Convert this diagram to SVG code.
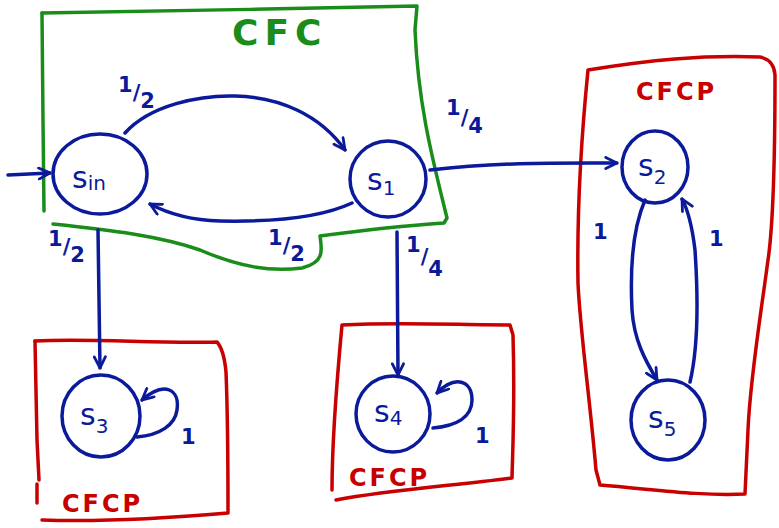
<svg xmlns="http://www.w3.org/2000/svg" width="779" height="528" viewBox="0 0 779 528">
<style>
.box-g{fill:none;stroke:#1a8c1a;stroke-width:3.5;stroke-linecap:round;stroke-linejoin:round}
.box-r{fill:none;stroke:#c80000;stroke-width:3.5;stroke-linecap:round;stroke-linejoin:round}
.node{fill:none;stroke:#0a1a9a;stroke-width:3.5}
.edge{fill:none;stroke:#0a1a9a;stroke-width:3.5;stroke-linecap:round}
.st{font-family:"DejaVu Sans",sans-serif;fill:#0a1a9a;font-size:30px}
.sub{font-size:20px}
.lbl{font-family:"DejaVu Sans",sans-serif;fill:#0a1a9a;font-size:21px;font-weight:bold}
.tg{font-family:"DejaVu Sans",sans-serif;fill:#1a8c1a;font-size:36px;font-weight:bold;letter-spacing:6px}
.tr{font-family:"DejaVu Sans",sans-serif;fill:#c80000;font-size:24px;font-weight:bold;letter-spacing:3px}
</style>
<defs>
<marker id="ah" viewBox="0 0 10 10" refX="9" refY="5" markerWidth="4" markerHeight="4" orient="auto" markerUnits="strokeWidth">
<path d="M1,1 L9,5 L1,9" fill="none" stroke="#0a1a9a" stroke-width="2" stroke-linecap="round"/>
</marker>
</defs>

<g id="cfc-box">
<path class="box-g" d="M42,13 C150,12 300,8 417,6 L415,30 C418,100 430,150 447,218 L444,223 C400,226 350,232 320,236 C322,250 325,262 302,268 C270,272 240,267 200,250 C160,236 110,230 53,224"/>
<path class="box-g" d="M42,13 L43,120 L44,211"/>
<text class="tg" x="232" y="45">CFC</text>
</g>

<g id="cfcp-right">
<path class="box-r" d="M588,70 C650,60 700,55 760,57 Q774,60 775,75 C775,150 774,220 768,260 C760,320 750,380 748,430 L745,494 C700,496 660,490 600,485 L596,470 C590,400 580,330 578,283 C577,220 580,150 588,70"/>
<text class="tr" x="636" y="100">CFCP</text>
</g>

<g id="cfcp-s3">
<path class="box-r" d="M35,341 C90,338 160,344 217,342 Q224,350 226,372 C228,420 228,470 228,513 C170,518 100,522 42,520"/>
<path class="box-r" d="M35,341 L37,440 L39,480 M37,484 L37,503"/>
<text class="tr" x="62" y="512">CFCP</text>
</g>

<g id="cfcp-s4">
<path class="box-r" d="M342,325 C400,322 460,325 510,325 L513,335 C515,400 513,440 512,478 C450,486 390,490 336,500 M342,325 C335,400 332,450 332,490"/>
<text class="tr" x="349" y="486">CFCP</text>
</g>

<g id="s_in">
<ellipse class="node" cx="100" cy="174" rx="47" ry="40"/>
<text class="st" x="72" y="188">s<tspan class="sub" dy="2">in</tspan></text>
</g>
<g id="s_1">
<circle class="node" cx="388" cy="179" r="38"/>
<text class="st" x="367" y="190">s<tspan class="sub" dy="5">1</tspan></text>
</g>
<g id="s_2">
<ellipse class="node" cx="655" cy="167" rx="33" ry="36"/>
<text class="st" x="638" y="176">s<tspan class="sub" dy="8">2</tspan></text>
</g>
<g id="s_5">
<ellipse class="node" cx="668" cy="420" rx="37" ry="40"/>
<text class="st" x="648" y="428">s<tspan class="sub" dy="8">5</tspan></text>
</g>
<g id="s_3">
<ellipse class="node" cx="101" cy="416" rx="39" ry="41"/>
<text class="st" x="80" y="425">s<tspan class="sub" dy="8">3</tspan></text>
</g>
<g id="s_4">
<ellipse class="node" cx="393" cy="414" rx="37" ry="38"/>
<text class="st" x="374" y="422">s<tspan class="sub" dy="3">4</tspan></text>
</g>

<g id="connectors">
<path class="edge" marker-end="url(#ah)" d="M8,175 L50,173"/>
<path class="edge" marker-end="url(#ah)" d="M125,133 C150,105 200,95 235,96 C280,97 320,115 345,150"/>
<path class="edge" marker-end="url(#ah)" d="M352,203 C320,218 270,222 220,221 C185,220 165,212 150,204"/>
<path class="edge" marker-end="url(#ah)" d="M430,170 C500,162 560,163 617,163"/>
<path class="edge" marker-end="url(#ah)" d="M98,230 L100,368"/>
<path class="edge" marker-end="url(#ah)" d="M397,232 L398,375"/>
<path class="edge" marker-end="url(#ah)" d="M137,437 C160,435 175,425 177,410 C180,390 165,380 142,400"/>
<path class="edge" marker-end="url(#ah)" d="M433,428 C455,426 472,418 472,400 C472,380 455,375 437,393"/>
<path class="edge" marker-end="url(#ah)" d="M645,200 C632,230 630,270 632,310 C634,340 645,360 657,380"/>
<path class="edge" marker-end="url(#ah)" d="M690,382 C700,340 697,280 695,250 C692,225 688,210 682,199"/>
<text class="lbl" x="118" y="92">1<tspan dy="8">/</tspan><tspan dy="8">2</tspan></text>
<text class="lbl" x="268" y="245">1<tspan dy="8">/</tspan><tspan dy="8">2</tspan></text>
<text class="lbl" x="48" y="246">1<tspan dy="8">/</tspan><tspan dy="8">2</tspan></text>
<text class="lbl" x="446" y="115">1<tspan dy="10">/</tspan><tspan dy="8">4</tspan></text>
<text class="lbl" x="406" y="252">1<tspan dy="12">/</tspan><tspan dy="12">4</tspan></text>
<text class="lbl" x="593" y="239">1</text>
<text class="lbl" x="709" y="246">1</text>
<text class="lbl" x="181" y="444">1</text>
<text class="lbl" x="475" y="443">1</text>
</g>
</svg>
